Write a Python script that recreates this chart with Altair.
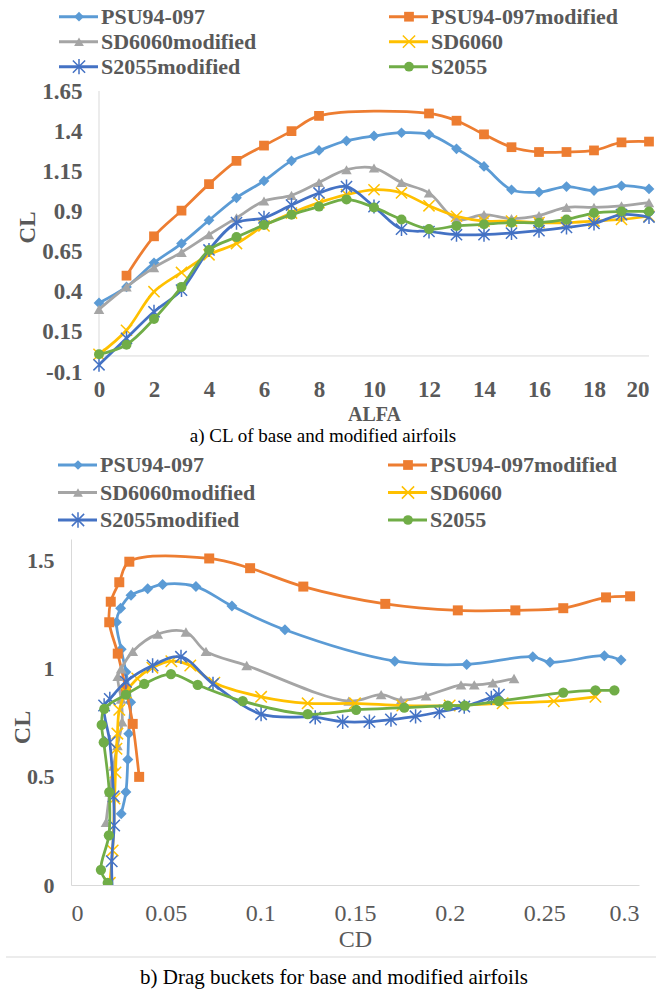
import altair as alt
import pandas as pd

# ---------------------------------------------------------------- series
SERIES = ["PSU94-097", "PSU94-097modified", "SD6060modified", "SD6060", "S2055modified", "S2055"]
COLORS = ["#5B9BD5", "#ED7D31", "#A5A5A5", "#FFC000", "#4472C4", "#70AD47"]
X_MARK = "M-1,-1L1,1M-1,1L1,-1"
ASTERISK = "M-1,-1L1,1M-1,1L1,-1M0,-1.25L0,1.25"
SHAPES = ["diamond", "square", "triangle-up", X_MARK, ASTERISK, "circle"]
FILLED = [True, True, True, False, False, True]
LEGEND_COL = [0, 1, 0, 1, 0, 1]
LEGEND_ROW = [0, 0, 1, 1, 2, 2]

# angle of attack (deg)
ALFA = list(range(21))

# lift coefficient per angle of attack
CL_PSU = [0.33, 0.43, 0.58, 0.70, 0.845, 0.985, 1.09, 1.215, 1.28, 1.34, 1.37,
          1.39, 1.38, 1.29, 1.18, 1.035, 1.02, 1.055, 1.03, 1.06, 1.04]
CL_PSU_MOD = [None, 0.50, 0.745, 0.905, 1.07, 1.215, 1.31, 1.40, 1.495, None, None,
              None, 1.51, 1.465, 1.38, 1.30, 1.27, 1.27, 1.28, 1.33, 1.335]
CL_SD_MOD = [0.29, 0.43, 0.55, 0.645, 0.755, 0.86, 0.965, 1.0, 1.08, 1.16, 1.17,
             1.08, 1.015, 0.85, 0.88, 0.855, 0.875, 0.925, 0.925, 0.935, 0.955]
CL_SD = [0.01, 0.16, 0.40, 0.52, 0.63, 0.70, 0.81, 0.89, 0.955, 1.005, 1.035,
         1.015, 0.935, 0.87, 0.84, 0.84, 0.83, 0.83, 0.84, 0.85, 0.87]
CL_S_MOD = [-0.055, 0.11, 0.275, 0.41, 0.66, 0.83, 0.86, 0.94, 1.015, 1.055, 0.93,
            0.79, 0.775, 0.755, 0.755, 0.765, 0.78, 0.80, 0.825, 0.88, 0.865]
CL_S = [0.01, 0.07, 0.23, 0.43, 0.66, 0.74, 0.815, 0.88, 0.93, 0.975, 0.925,
        0.85, 0.79, 0.81, 0.82, 0.83, 0.83, 0.85, 0.89, 0.90, 0.90]

# drag coefficient per angle of attack
CD_PSU = [0.0265, 0.029, 0.030, 0.0305, 0.0315, 0.029, 0.0265, 0.024, 0.0262, 0.0317, 0.0405,
          0.0484, 0.066, 0.085, 0.113, 0.171, 0.209, 0.2439, 0.253, 0.2817, 0.2905]
CD_PSU_MOD = [None, 0.036, 0.0326, 0.029, 0.0247, 0.0202, 0.021, 0.0255, 0.0308, None, None,
              None, 0.073, 0.0946, 0.1227, 0.166, 0.2043, 0.2347, 0.26, 0.2826, 0.2953]
CD_SD_MOD = [0.0185, 0.0205, 0.0225, 0.0245, 0.027, 0.0265, 0.0247, 0.0265, 0.0326, 0.0458, 0.0607,
             0.0713, 0.0928, 0.1467, 0.1638, 0.1743, 0.1875, 0.206, 0.213, 0.2228, 0.234]
CD_SD = [0.0205, 0.022, 0.023, 0.0235, 0.024, 0.0245, 0.0255, 0.029, 0.035, 0.043, 0.053,
         0.063, 0.0757, 0.1004, 0.125, 0.15, 0.175, 0.2, 0.228, 0.255, 0.277]
CD_S_MOD = [0.022, 0.0215, 0.0228, 0.0225, 0.0205, 0.0175, 0.0205, 0.029, 0.0431, 0.0581, 0.075,
            0.1004, 0.129, 0.1435, 0.1576, 0.169, 0.182, 0.1946, 0.2077, 0.226, 0.222]
CD_S = [0.0194, 0.0158, 0.020, 0.0202, 0.0173, 0.0162, 0.0176, 0.029, 0.0387, 0.0528, 0.0669,
        0.0907, 0.125, 0.1506, 0.176, 0.199, 0.208, 0.226, 0.26, 0.277, 0.287]

CL_ALL = [CL_PSU, CL_PSU_MOD, CL_SD_MOD, CL_SD, CL_S_MOD, CL_S]
CD_ALL = [CD_PSU, CD_PSU_MOD, CD_SD_MOD, CD_SD, CD_S_MOD, CD_S]

TOP_Y_TICKS = [-0.1, 0.15, 0.4, 0.65, 0.9, 1.15, 1.4, 1.65]
TOP_X_TICKS = [0, 2, 4, 6, 8, 10, 12, 14, 16, 18, 20]
BOT_Y_TICKS = [0, 0.5, 1, 1.5]
BOT_X_TICKS = [0, 0.05, 0.1, 0.15, 0.2, 0.25, 0.3]

# ---------------------------------------------------------------- styling
FONT = "Liberation Serif"
TEXT_GREY = "#595959"
AXIS_GREY = "#D9D9D9"
LINE_W = 2.75


def series_frame(cl, cd):
    rows = [(a, c, d) for a, c, d in zip(ALFA, cl, cd) if c is not None]
    return pd.DataFrame(rows, columns=["alfa", "cl", "cd"])


def series_layers(x_field, x_enc, y_enc, size_scale, clip):
    layers = []
    for name, color, shape, filled, cl, cd in zip(SERIES, COLORS, SHAPES, FILLED, CL_ALL, CD_ALL):
        df = series_frame(cl, cd)
        base = alt.Chart(df).encode(x=x_enc, y=y_enc, order="alfa:Q")
        layers.append(base.mark_line(interpolate="catmull-rom", strokeWidth=LINE_W,
                                     color=color, clip=clip))
        size = {"diamond": 115, "square": 95, "triangle-up": 110, "circle": 100}.get(shape, 125)
        pt = dict(shape=shape, filled=filled, size=size * size_scale, color=color,
                  opacity=1, clip=clip)
        if not filled:
            pt["strokeWidth"] = 1.5
        layers.append(base.mark_point(**pt))
    return layers


# ---------------------------------------------------------------- legends
LEGEND_DF = pd.DataFrame({"name": SERIES, "col": LEGEND_COL, "row": LEGEND_ROW})


def legend_block(height, first_row, step, col_gap, text_dx):
    y_scale = alt.Scale(domain=[-first_row / step, (height - first_row) / step],
                        reverse=True, nice=False, zero=False)
    x_scale = alt.Scale(domain=[0, 1], nice=False, zero=False)
    color = alt.Color("name:N", scale=alt.Scale(domain=SERIES, range=COLORS), legend=None)
    shape = alt.Shape("name:N", scale=alt.Scale(domain=SERIES, range=SHAPES), legend=None)
    base = alt.Chart(LEGEND_DF).encode(
        x=alt.X("col:Q", scale=x_scale, axis=None),
        y=alt.Y("row:Q", scale=y_scale, axis=None),
    )
    filled_names = [n for n, f in zip(SERIES, FILLED) if f]
    open_names = [n for n, f in zip(SERIES, FILLED) if not f]
    seg = base.mark_rule(strokeWidth=3, xOffset=text_dx - 42, x2Offset=text_dx - 3).encode(
        x2="col:Q", color=color)
    dots = base.transform_filter(alt.FieldOneOfPredicate(field="name", oneOf=filled_names)).mark_point(
        filled=True, size=95, opacity=1, xOffset=text_dx - 22).encode(color=color, shape=shape)
    marks = base.transform_filter(alt.FieldOneOfPredicate(field="name", oneOf=open_names)).mark_point(
        filled=False, size=150, opacity=1, strokeWidth=1.5, xOffset=text_dx - 22).encode(
        color=color, shape=shape)
    labels = base.mark_text(align="left", baseline="middle", dx=text_dx, font=FONT, fontSize=22,
                            fontWeight="bold", color=TEXT_GREY).encode(text="name:N")
    return alt.layer(seg, dots, marks, labels).properties(width=col_gap, height=height)


# ---------------------------------------------------------------- CL vs ALFA
TOP_W, TOP_H, TOP_SHIFT = 578, 281, 28
top_x_min = -TOP_SHIFT * 20 / (TOP_W - TOP_SHIFT)

x_top = alt.X("alfa:Q",
              scale=alt.Scale(domain=[top_x_min, 20], nice=False, zero=False),
              axis=alt.Axis(values=TOP_X_TICKS, domain=False, ticks=False, grid=False,
                            labelFont=FONT, labelFontSize=23, labelFontWeight="bold",
                            labelColor=TEXT_GREY, labelPadding=6,
                            title="ALFA", titleFont=FONT, titleFontSize=20, titleFontWeight="bold",
                            titleColor=TEXT_GREY, titleBaseline="alphabetic", titleY=48,
                            titleX=TOP_SHIFT + (TOP_W - TOP_SHIFT) / 2))
y_top = alt.Y("cl:Q",
              scale=alt.Scale(domain=[-0.1, 1.65], nice=False, zero=False),
              axis=alt.Axis(values=TOP_Y_TICKS, labelExpr="'' + datum.value", offset=-TOP_SHIFT,
                            domain=False, ticks=False, grid=False,
                            labelFont=FONT, labelFontSize=23, labelFontWeight="bold",
                            labelColor=TEXT_GREY, labelPadding=17,
                            title="CL", titleFont=FONT, titleFontSize=23, titleFontWeight="bold",
                            titleColor=TEXT_GREY, titleBaseline="alphabetic", titleX=-65, titleY=136))

ONE = pd.DataFrame({"k": [0]})
top_axes = [
    alt.Chart(ONE).mark_rule(color=AXIS_GREY, strokeWidth=1).encode(
        x=alt.datum(0), x2=alt.datum(20), y=alt.datum(0)),
    alt.Chart(ONE).mark_rule(color=AXIS_GREY, strokeWidth=1).encode(
        x=alt.datum(0), y=alt.datum(0), y2=alt.datum(1.65)),
]

top_chart = alt.layer(*top_axes, *series_layers("alfa", x_top, y_top, 1.0, False)).properties(
    width=TOP_W, height=TOP_H,
    title=alt.TitleParams("a) CL of base and modified airfoils", orient="bottom", anchor="middle",
                          frame="group", font=FONT, fontSize=19, fontWeight="normal",
                          color="black", offset=3, dx=-37),
)

# ---------------------------------------------------------------- drag buckets
BOT_W, BOT_H = 568, 346

x_bot = alt.X("cd:Q",
              scale=alt.Scale(domain=[0, 0.3], nice=False, zero=False),
              axis=alt.Axis(values=BOT_X_TICKS, labelExpr="'' + datum.value", domain=True,
                            domainColor=AXIS_GREY, domainWidth=1, ticks=False, grid=False,
                            labelFont=FONT, labelFontSize=24, labelFontWeight="normal",
                            labelColor=TEXT_GREY, labelPadding=16,
                            title="CD", titleFont=FONT, titleFontSize=24, titleFontWeight="normal",
                            titleColor=TEXT_GREY, titleBaseline="alphabetic", titleY=61))
y_bot = alt.Y("cl:Q",
              scale=alt.Scale(domain=[0, 1.6], nice=False, zero=False),
              axis=alt.Axis(values=BOT_Y_TICKS, labelExpr="'' + datum.value", domain=True,
                            domainColor=AXIS_GREY, domainWidth=1, ticks=False, grid=False,
                            labelFont=FONT, labelFontSize=22, labelFontWeight="bold",
                            labelColor=TEXT_GREY, labelPadding=17,
                            title="CL", titleFont=FONT, titleFontSize=24, titleFontWeight="bold",
                            titleColor=TEXT_GREY, titleBaseline="alphabetic", titleX=-41.5, titleY=188))

separator = alt.Chart(ONE).mark_rule(color=AXIS_GREY, strokeWidth=1).encode(
    x=alt.value(-65), x2=alt.value(585), y=alt.value(418))

bottom_chart = alt.layer(separator, *series_layers("cd", x_bot, y_bot, 1.05, True)).properties(
    width=BOT_W, height=BOT_H,
    title=alt.TitleParams("b) Drag buckets for base and modified airfoils", orient="bottom",
                          anchor="middle", frame="group", font=FONT, fontSize=21,
                          fontWeight="normal", color="black", offset=9.5, dx=-21),
)

legend_top = legend_block(87, 12.7, 25, 330, 30)
legend_bottom = legend_block(167, 93, 27.5, 330, 29)

chart = alt.vconcat(legend_top, top_chart, legend_bottom, bottom_chart,
                    spacing=0, bounds="flush").properties(
    padding={"left": 5, "top": 4, "right": 0, "bottom": 3},
    background="white",
).configure_view(stroke=None)

chart.save("out.html", embed_options={"renderer": "svg", "actions": False})
